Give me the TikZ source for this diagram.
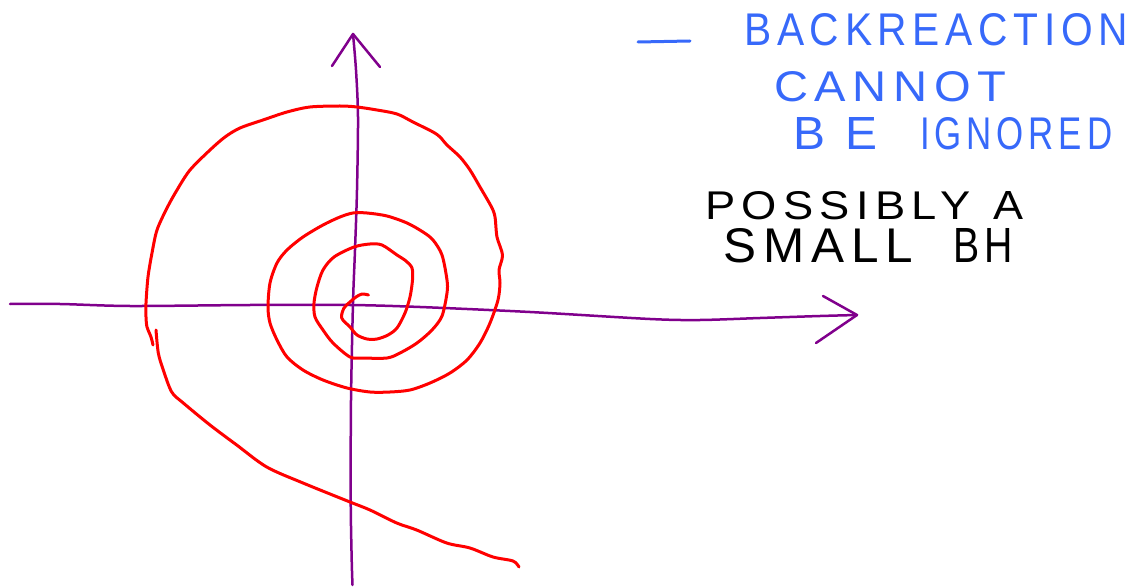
\documentclass[tikz,border=0pt]{standalone}
\usepackage{fontspec}
\setmainfont{Liberation Sans}[LetterSpace=14]
\usepackage{graphicx}
\definecolor{spiralred}{RGB}{255,0,0}
\definecolor{axispurple}{RGB}{128,0,140}
\definecolor{penblue}{RGB}{55,105,250}
\tikzset{
  spiral/.style={draw=spiralred, line width=3pt, line cap=round, line join=round},
  axis/.style={draw=axispurple, line width=2.5pt, line cap=round, line join=round},
  bluetxt/.style={text=penblue, inner sep=0pt, anchor=south west},
  blacktxt/.style={text=black, inner sep=0pt, anchor=south west}
}
\newcommand{\fitbox}[3]{\resizebox{#1pt}{#2pt}{#3}}
\begin{document}
\begin{tikzpicture}[x=1pt,y=-1pt]
\useasboundingbox (0,0) rectangle (1146,588);
% axes
\coordinate (hstart) at (10,304);
\coordinate (htip) at (857,315);
\coordinate (hbarbA) at (823,296);
\coordinate (hbarbB) at (816,343);
\coordinate (vtip) at (353,34);
\coordinate (vend) at (352.5,585);
\coordinate (vbarbA) at (332,66);
\coordinate (vbarbB) at (380,67);
\draw[axis] plot[smooth, tension=0.5] coordinates {(10,304) (60,304) (130,306) (250,305) (350,305) (420,307) (530,312) (650,319) (700,320) (760,318) (820,316) (857,315)};
\draw[axis] (hbarbA) -- (htip) -- (hbarbB);
\draw[axis] plot[smooth, tension=0.5] coordinates {(353,34) (356,70) (358,117) (357,190) (355,250) (353,303) (351,400) (350.7,500) (351.7,560) (352.5,585)};
\draw[axis] (vbarbA) -- (vtip) -- (vbarbB);
% spiral
\draw[spiral] plot[smooth, tension=0.5] coordinates {(368.5,295) (362,294) (356,297) (350,302) (344,308) (341.7,318) (350,327) (357,335) (367,339) (377,339) (388,335) (397,328) (405,313) (410,297) (412.5,280) (412,268) (406,261) (397,255) (382,245) (370,244) (354,247) (334,257) (323,270) (317,287) (314,303) (315,317) (323,330) (333,343) (350,357) (363,358) (387,358) (400,353) (417,343) (432,330) (442,316) (447,293) (447,280) (442,255) (433,240) (423,232) (407,223) (387,216) (367,213) (353,213) (340,217) (323,225) (303,237) (287,250) (277,263) (270,283) (268,307) (270,323) (277,340) (287,357) (303,370) (323,380) (347,388) (370,392) (390,392) (410,390) (430,383) (450,373) (467,360) (480,343) (490,323) (498,300) (500,283) (499,270) (502.5,255) (497,237) (495,217) (491.5,207) (480,187) (470,170) (460,157) (447,145) (440,137) (433,132) (413,122) (397,114) (377,110) (357,107) (340,106) (310,107) (287,112) (263,120) (240,128) (225,137) (210,150) (190,170) (177,190) (167,208) (157,230) (152,253) (148,277) (146,303) (146,317) (147,327) (151,337) (153,345)};
\draw[spiral] plot[smooth, tension=0.5] coordinates {(156,330) (158.3,353) (163.3,370) (171.7,392) (183.3,403) (210,425) (236.7,445) (266.7,467) (303,483) (350,502) (370,510) (396.7,523) (416.7,530) (446.7,543) (470,548) (493,557) (513,561) (519,567)};
% blue text
\coordinate (dashA) at (638,42);
\coordinate (dashB) at (690,41);
\draw[draw=penblue, line width=3pt, line cap=round] (dashA) -- (dashB);
\node[bluetxt] (l1) at (744,46) {\fitbox{384}{32}{BACKREACTION}};
\node[bluetxt] (l2) at (774,102) {\fitbox{232}{30}{CANNOT}};
\node[bluetxt] (l3a) at (793,150) {\fitbox{84}{32}{B E}};
\node[bluetxt] (l3b) at (920,150) {\fitbox{192}{32}{IGNORED}};
% black text
\node[blacktxt] (m1a) at (705,220) {\fitbox{265}{28}{POSSIBLY}};
\node[blacktxt] (m1b) at (993,220) {\fitbox{30}{28}{A}};
\node[blacktxt] (m2a) at (723,263) {\fitbox{190}{34}{SMALL}};
\node[blacktxt] (m2b) at (953,263) {\fitbox{60}{34}{BH}};
\end{tikzpicture}
\end{document}
